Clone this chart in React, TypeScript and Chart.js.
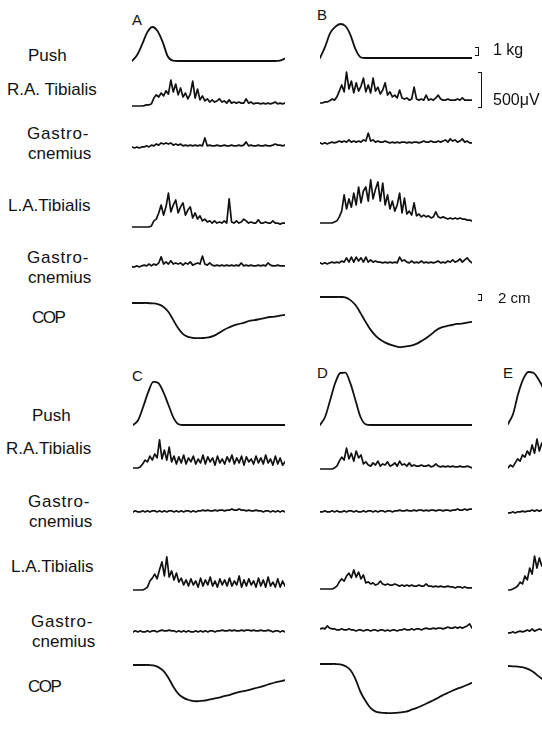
import React, { useEffect, useRef } from "react";
import { Chart, registerables } from "chart.js";

Chart.register(...registerables);

// ---------- sampling ----------
const EMG_SAMPLES = 64; // EMG samples across one sweep
const SLOW_SAMPLES = 31; // push force / COP samples across one sweep

// ---------- text ----------
const PANEL_NAMES = ["A", "B", "C", "D", "E"];
const FORCE_SCALE_LABEL = "1 kg";
const EMG_SCALE_LABEL = "500\u03bcV";
const COP_SCALE_LABEL = "2 cm";

// ---------- Push force (kg) ----------
const PUSH_A = [0, 0.75, 2.1, 3.6, 4.25, 3.75, 2.4, 0.6, 0.05, 0, 0, 0, 0, 0, 0, 0, 0, 0, 0, 0, 0, 0, 0, 0, 0, 0, 0, 0, 0, 0.05, 0.3];
const PUSH_B = [0, 1.4, 3.1, 3.9, 4.25, 4.0, 2.9, 1.1, 0.1, 0, 0, 0, 0, 0, 0, 0, 0, 0, 0, 0, 0, 0, 0, 0, 0, 0, 0, 0, 0, 0, 0];
const PUSH_C = [0, 0.6, 2.25, 4.1, 5.4, 5.25, 4.1, 2.5, 0.9, 0.1, 0, 0, 0, 0, 0, 0, 0, 0, 0, 0, 0, 0, 0, 0, 0, 0, 0, 0, 0, 0, 0];
const PUSH_D = [0, 1, 3.1, 5.25, 6.5, 6.55, 5.2, 3.1, 1, 0.1, 0, 0, 0, 0, 0, 0, 0, 0, 0, 0, 0, 0, 0, 0, 0, 0, 0, 0, 0, 0, 0];
const PUSH_E = [0, 1.25, 3.75, 5.6, 6.5, 6.4, 5.6, 4.4, 2.5];

// ---------- R.A. Tibialis EMG (uV) ----------
const RA_TIB_A = [0, 0, 0, 0, 0, 5, 15, 15, 30, 110, 155, 125, 180, 140, 210, 165, 360, 195, 305, 155, 250, 125, 180, 100, 165, 345, 110, 235, 85, 140, 70, 100, 55, 85, 55, 70, 100, 55, 70, 40, 85, 40, 55, 40, 55, 40, 40, 100, 40, 55, 30, 40, 40, 30, 40, 30, 40, 30, 40, 55, 30, 40, 30, 40];
const RA_TIB_B = [0, 0, 15, 15, 30, 55, 40, 85, 165, 250, 155, 430, 195, 305, 140, 280, 165, 235, 345, 155, 250, 140, 345, 165, 220, 125, 180, 280, 110, 155, 85, 110, 70, 180, 70, 55, 70, 40, 55, 220, 55, 40, 55, 40, 110, 40, 55, 40, 70, 110, 55, 40, 40, 55, 40, 40, 40, 55, 40, 70, 40, 40, 40, 40];
const RA_TIB_C = [0, 0, 0, 15, 55, 110, 85, 165, 110, 195, 140, 390, 125, 250, 110, 290, 85, 165, 55, 155, 70, 180, 55, 140, 85, 165, 55, 125, 70, 180, 55, 155, 85, 140, 40, 165, 70, 125, 55, 155, 85, 180, 55, 140, 70, 165, 40, 155, 85, 125, 55, 165, 70, 140, 55, 180, 70, 125, 40, 165, 55, 140, 40, 85];
const RA_TIB_D = [0, 0, 0, 0, 0, 0, 15, 40, 110, 165, 125, 290, 140, 220, 110, 250, 155, 195, 70, 100, 55, 40, 85, 55, 110, 40, 70, 55, 100, 40, 55, 85, 40, 110, 55, 70, 40, 85, 40, 55, 40, 40, 55, 40, 40, 55, 30, 40, 70, 40, 30, 40, 30, 40, 30, 40, 30, 30, 40, 30, 30, 40, 30, 15];
const RA_TIB_E = [15, 55, 30, 85, 140, 110, 195, 165, 250, 195, 335, 220, 415, 250, 360, 280];

// ---------- right Gastrocnemius EMG (uV) ----------
const R_GASTRO_A = [15, 0, 15, 0, 15, 15, 30, 15, 40, 30, 55, 40, 70, 55, 70, 55, 70, 40, 55, 40, 55, 30, 40, 30, 40, 30, 40, 30, 40, 30, 140, 30, 40, 30, 30, 40, 30, 30, 40, 30, 30, 40, 30, 30, 40, 30, 40, 85, 30, 40, 30, 30, 40, 30, 30, 40, 30, 30, 40, 55, 40, 40, 30, 40];
const R_GASTRO_B = [30, 15, 30, 15, 30, 40, 30, 40, 55, 40, 55, 40, 70, 40, 55, 40, 55, 40, 70, 55, 165, 55, 70, 40, 55, 40, 40, 55, 40, 30, 40, 30, 40, 30, 40, 40, 30, 40, 30, 40, 40, 30, 40, 55, 40, 40, 55, 40, 40, 55, 40, 55, 70, 40, 85, 55, 70, 40, 55, 85, 40, 55, 30, 30];
const R_GASTRO_C = [15, 30, 15, 15, 30, 15, 30, 15, 30, 30, 15, 30, 15, 30, 15, 30, 30, 15, 30, 15, 30, 15, 30, 30, 15, 30, 15, 30, 30, 40, 30, 40, 30, 30, 40, 30, 40, 40, 30, 40, 40, 55, 40, 40, 55, 40, 40, 30, 40, 30, 30, 40, 30, 30, 15, 30, 30, 15, 30, 15, 30, 15, 30, 15];
const R_GASTRO_D = [15, 15, 30, 15, 15, 30, 15, 30, 15, 15, 30, 15, 30, 30, 15, 30, 15, 15, 30, 15, 30, 30, 15, 30, 15, 30, 30, 15, 30, 30, 15, 30, 30, 40, 30, 30, 40, 30, 30, 40, 30, 40, 40, 30, 40, 30, 40, 40, 30, 40, 40, 30, 40, 40, 30, 40, 40, 55, 40, 40, 55, 40, 55, 55];
const R_GASTRO_E = [15, 15, 30, 15, 30, 30, 40, 30, 40, 40, 55, 40, 55, 40, 55, 40];

// ---------- L.A. Tibialis EMG (uV) ----------
const LA_TIB_A = [0, 0, 0, 0, 0, 0, 0, 0, 15, 85, 110, 195, 305, 165, 280, 470, 210, 305, 375, 195, 280, 335, 165, 235, 280, 125, 195, 110, 155, 85, 110, 70, 85, 55, 85, 55, 70, 55, 85, 55, 390, 70, 55, 85, 55, 70, 110, 85, 55, 70, 55, 55, 100, 55, 55, 70, 55, 55, 85, 55, 55, 40, 55, 55];
const LA_TIB_B = [0, 0, 0, 0, 0, 0, 15, 30, 85, 165, 390, 195, 335, 220, 415, 250, 500, 280, 445, 500, 305, 600, 335, 470, 570, 305, 555, 250, 390, 195, 305, 165, 250, 415, 140, 345, 125, 165, 110, 280, 100, 125, 85, 110, 85, 100, 70, 85, 155, 85, 70, 85, 70, 55, 70, 55, 70, 55, 70, 55, 55, 40, 40, 30];
const LA_TIB_C = [0, 0, 0, 0, 0, 15, 40, 125, 165, 220, 155, 280, 390, 195, 460, 180, 265, 140, 235, 110, 165, 70, 140, 55, 155, 70, 125, 40, 165, 55, 140, 70, 180, 55, 125, 40, 155, 70, 140, 55, 165, 55, 125, 70, 195, 40, 140, 55, 155, 70, 125, 40, 165, 55, 140, 40, 180, 55, 110, 40, 155, 40, 125, 55];
const LA_TIB_D = [0, 0, 0, 0, 0, 0, 15, 40, 100, 140, 110, 180, 220, 155, 265, 165, 235, 140, 195, 85, 100, 70, 85, 55, 70, 110, 70, 55, 70, 55, 55, 70, 55, 40, 55, 40, 55, 40, 55, 40, 40, 55, 40, 40, 70, 40, 40, 30, 40, 30, 40, 30, 30, 40, 30, 30, 15, 30, 30, 15, 30, 15, 15, 15];
const LA_TIB_E = [0, 0, 15, 30, 55, 110, 85, 195, 140, 305, 220, 470, 305, 445, 335, 390];

// ---------- left Gastrocnemius EMG (uV) ----------
const L_GASTRO_A = [15, 15, 30, 15, 30, 40, 30, 55, 30, 55, 40, 70, 155, 55, 85, 55, 100, 55, 70, 55, 70, 40, 70, 55, 85, 40, 55, 70, 55, 165, 55, 40, 70, 40, 30, 40, 30, 40, 30, 40, 30, 40, 30, 40, 30, 70, 30, 40, 30, 40, 30, 30, 40, 30, 40, 30, 70, 40, 30, 30, 40, 30, 30, 30];
const L_GASTRO_B = [30, 15, 30, 15, 30, 40, 30, 40, 30, 55, 40, 100, 40, 110, 40, 110, 55, 100, 40, 110, 40, 70, 40, 55, 40, 40, 30, 40, 30, 40, 30, 40, 30, 110, 55, 70, 40, 30, 55, 30, 40, 30, 55, 30, 40, 30, 40, 30, 40, 55, 30, 40, 30, 55, 40, 70, 40, 55, 85, 40, 70, 100, 55, 30];
const L_GASTRO_C = [15, 30, 15, 30, 15, 15, 30, 15, 30, 30, 15, 30, 40, 30, 30, 40, 30, 30, 15, 30, 15, 30, 15, 30, 15, 15, 30, 15, 30, 15, 30, 15, 30, 30, 15, 30, 30, 40, 30, 30, 40, 30, 40, 30, 30, 40, 30, 40, 40, 30, 40, 30, 30, 40, 30, 30, 40, 30, 15, 30, 30, 15, 30, 15];
const L_GASTRO_D = [30, 40, 30, 70, 40, 30, 30, 15, 15, 30, 15, 15, 30, 15, 15, 0, 15, 15, 0, 15, 15, 0, 15, 15, 0, 15, 15, 0, 15, 0, 15, 15, 0, 15, 15, 30, 15, 15, 30, 15, 30, 30, 15, 30, 40, 30, 30, 40, 30, 40, 40, 30, 40, 55, 40, 40, 55, 40, 55, 40, 55, 70, 100, 40];
const L_GASTRO_E = [15, 15, 30, 15, 30, 40, 30, 40, 55, 40, 70, 40, 55, 70, 55, 55];

// ---------- Centre of pressure displacement (cm) ----------
const COP_A = [0, 0, 0, 0, -0.1, -0.3, -0.9, -2.3, -4.6, -7.1, -8.9, -9.7, -10, -10.05, -10, -9.85, -9.4, -8.6, -7.7, -7.0, -6.4, -6.0, -5.6, -5.1, -4.9, -4.6, -4.3, -4.0, -3.9, -3.6, -3.4];
const COP_B = [0, 0, 0, 0, 0, -0.1, -0.9, -2.3, -4.6, -7.1, -9.4, -11.1, -12.3, -13.1, -13.7, -14.1, -14.3, -14.1, -13.9, -13.4, -12.6, -11.7, -10.6, -9.4, -8.7, -8.3, -8.0, -7.7, -7.6, -7.3, -7.1];
const COP_C = [0, 0, 0, 0, -0.1, -0.6, -1.7, -3.7, -6.3, -8.3, -9.4, -10, -10.3, -10.35, -10.2, -9.9, -9.6, -9.3, -8.9, -8.6, -8.1, -7.7, -7.4, -7.1, -6.7, -6.3, -5.9, -5.4, -5.0, -4.7, -4.3];
const COP_D = [0, 0, 0, 0, -0.1, -0.6, -1.7, -4.3, -8, -10.6, -12.6, -13.6, -13.9, -14, -14.05, -13.95, -13.8, -13.6, -13.1, -12.6, -12, -11.3, -10.6, -9.9, -9.1, -8.4, -7.7, -7.1, -6.6, -6, -5.4];
const COP_E = [0, -0.1, -0.2, -0.4, -0.9, -1.7, -2.9, -4, -5.4];

// ---------- layout (pixels) ----------
const PX_PER_KG = 8;
const PX_PER_UV = 36 / 500;
const PX_PER_CM = 3.5;

type Kind = "push" | "emg" | "cop";
const ROW_KINDS: Kind[] = ["push", "emg", "emg", "emg", "emg", "cop"];

const PANEL_TRACES: Record<string, number[][]> = {
  A: [PUSH_A, RA_TIB_A, R_GASTRO_A, LA_TIB_A, L_GASTRO_A, COP_A],
  B: [PUSH_B, RA_TIB_B, R_GASTRO_B, LA_TIB_B, L_GASTRO_B, COP_B],
  C: [PUSH_C, RA_TIB_C, R_GASTRO_C, LA_TIB_C, L_GASTRO_C, COP_C],
  D: [PUSH_D, RA_TIB_D, R_GASTRO_D, LA_TIB_D, L_GASTRO_D, COP_D],
  E: [PUSH_E, RA_TIB_E, R_GASTRO_E, LA_TIB_E, L_GASTRO_E, COP_E],
};

const PANEL_X: Record<string, [number, number]> = {
  A: [132, 285],
  B: [320, 472],
  C: [133, 285],
  D: [320, 472],
  E: [508, 660],
};
const PANEL_BASES: Record<string, number[]> = {
  A: [61, 106, 148, 227, 268, 303],
  B: [58, 103, 145, 223, 265, 297],
  C: [425, 468, 513, 590, 633, 665],
  D: [425, 469, 513, 589, 631, 664],
  E: [424, 469, 514, 590, 634, 666],
};
const PANEL_LETTER_POS: Record<string, [number, number]> = {
  A: [132, 20],
  B: [317, 15],
  C: [132, 376],
  D: [317, 373],
  E: [503, 373],
};

type RowLabel = { lines: string[]; x: number; y: number; spacing?: number };
const LEFT_LABELS: RowLabel[] = [
  { lines: ["Push"], x: 28, y: 56 },
  { lines: ["R.A. Tibialis"], x: 7, y: 90 },
  { lines: ["Gastro-", "cnemius"], x: 27, y: 144 },
  { lines: ["L.A.Tibialis"], x: 8, y: 206 },
  { lines: ["Gastro-", "cnemius"], x: 27, y: 268 },
  { lines: ["COP"], x: 32, y: 318, spacing: -1.5 },
  { lines: ["Push"], x: 32, y: 416 },
  { lines: ["R.A.Tibialis"], x: 6, y: 449 },
  { lines: ["Gastro-", "cnemius"], x: 28, y: 512 },
  { lines: ["L.A.Tibialis"], x: 11, y: 567 },
  { lines: ["Gastro-", "cnemius"], x: 31, y: 632 },
  { lines: ["COP"], x: 28, y: 687, spacing: -1.5 },
];

const FONT = '"Liberation Sans", Arial, Helvetica, sans-serif';

function Trace(props: {
  values: number[];
  kind: Kind;
  x0: number;
  x1: number;
  base: number;
}) {
  const { values, kind, x0, x1, base } = props;
  const ref = useRef<HTMLCanvasElement>(null);
  const H = 130;
  const samples = kind === "emg" ? EMG_SAMPLES : SLOW_SAMPLES;
  const pxPerUnit = kind === "push" ? PX_PER_KG : kind === "emg" ? PX_PER_UV : PX_PER_CM;
  useEffect(() => {
    if (!ref.current) return;
    const half = H / 2 / pxPerUnit;
    const chart = new Chart(ref.current, {
      type: "line",
      data: {
        labels: Array.from({ length: samples }, (_, i) => i),
        datasets: [
          {
            data: values,
            borderColor: "#111",
            borderWidth: kind === "emg" ? 1.7 : 1.8,
            pointRadius: 0,
            fill: false,
            tension: kind === "cop" ? 0.4 : 0,
            cubicInterpolationMode: kind === "push" ? "monotone" : "default",
            clip: false as any,
            borderJoinStyle: "round",
            borderCapStyle: "round",
          },
        ],
      },
      options: {
        animation: false,
        responsive: false,
        events: [],
        layout: { padding: 0 },
        plugins: { legend: { display: false }, tooltip: { enabled: false } },
        scales: {
          x: { display: false },
          y: { display: false, min: -half, max: half },
        },
      },
    });
    return () => chart.destroy();
  }, []);
  return (
    <canvas
      ref={ref}
      width={x1 - x0}
      height={H}
      style={{ position: "absolute", left: x0, top: base - H / 2, width: x1 - x0, height: H }}
    />
  );
}

function Bracket(props: { left: number; top: number; height: number }) {
  return (
    <div
      style={{
        position: "absolute",
        left: props.left,
        top: props.top,
        width: 4,
        height: props.height,
        borderTop: "1.5px solid #111",
        borderBottom: "1.5px solid #111",
        borderRight: "1.8px solid #111",
        boxSizing: "border-box",
      }}
    />
  );
}

function Text(props: { x: number; y: number; size: number; children: React.ReactNode; spacing?: number }) {
  return (
    <div
      style={{
        position: "absolute",
        left: props.x,
        top: props.y - 10,
        fontSize: props.size,
        lineHeight: "20px",
        whiteSpace: "nowrap",
        letterSpacing: props.spacing ?? 0,
        color: "#111",
      }}
    >
      {props.children}
    </div>
  );
}

export default function App() {
  return (
    <div
      style={{
        position: "fixed",
        left: 0,
        top: 0,
        width: 542,
        height: 730,
        overflow: "hidden",
        background: "#fff",
        fontFamily: FONT,
      }}
    >
      {LEFT_LABELS.map((l, i) =>
        l.lines.length === 1 ? (
          <Text key={"l" + i} x={l.x} y={l.y} size={17} spacing={l.spacing}>
            {l.lines[0]}
          </Text>
        ) : (
          <React.Fragment key={"l" + i}>
            <Text x={l.x} y={l.y - 10} size={17} spacing={0.8}>
              {l.lines[0]}
            </Text>
            <Text x={l.x + 1} y={l.y + 10} size={17}>
              {l.lines[1]}
            </Text>
          </React.Fragment>
        )
      )}
      {PANEL_NAMES.map((p) => (
        <Text key={"p" + p} x={PANEL_LETTER_POS[p][0]} y={PANEL_LETTER_POS[p][1]} size={15}>
          {p}
        </Text>
      ))}
      {PANEL_NAMES.map((p) =>
        PANEL_TRACES[p].map((vals, r) => (
          <Trace
            key={p + r}
            values={vals}
            kind={ROW_KINDS[r]}
            x0={PANEL_X[p][0]}
            x1={PANEL_X[p][1]}
            base={PANEL_BASES[p][r]}
          />
        ))
      )}
      <Bracket left={475} top={47} height={9} />
      <Text x={493} y={50} size={16}>
        {FORCE_SCALE_LABEL}
      </Text>
      <Bracket left={478} top={72} height={36} />
      <Text x={493} y={100} size={16}>
        {EMG_SCALE_LABEL}
      </Text>
      <Bracket left={478} top={294} height={7} />
      <Text x={498} y={298} size={15}>
        {COP_SCALE_LABEL}
      </Text>
    </div>
  );
}
